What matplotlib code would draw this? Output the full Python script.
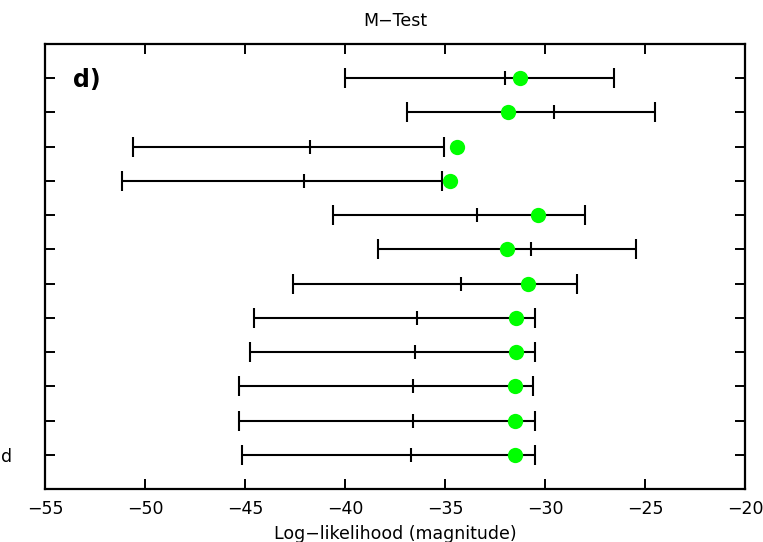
import numpy as np
import matplotlib
matplotlib.use('Agg')
import matplotlib.pyplot as plt

# rows listed top to bottom
row_labels = ['', '', '', '', '', '', '', '', '', '', '', 'd']
lo  = [-40.0, -36.9, -50.6, -51.15, -40.6, -38.33, -42.58, -44.53, -44.75, -45.28, -45.28, -45.17]
med = [-32.0, -29.57, -41.75, -42.07, -33.4, -30.7, -34.22, -36.38, -36.48, -36.58, -36.6, -36.7]
hi  = [-26.57, -24.5, -35.05, -35.13, -28.0, -25.43, -28.42, -30.5, -30.5, -30.58, -30.5, -30.5]
obs = [-31.25, -31.85, -34.4, -34.73, -30.35, -31.9, -30.87, -31.47, -31.47, -31.52, -31.52, -31.52]

plt.rcParams['font.family'] = ['DejaVu Sans']

fig = plt.figure(figsize=(7.63, 5.42), dpi=100)
ax = fig.add_axes([45/763, 53/542, 700/763, 445/542])

n = len(lo)
y = np.arange(n, 0, -1)
lo = np.array(lo); hi = np.array(hi); med = np.array(med)

ax.errorbar(med, y, xerr=[med - lo, hi - med], fmt='none', ecolor='black',
            elinewidth=1.5, capsize=7, capthick=1.5, zorder=2)
ax.plot(med, y, linestyle='none', marker='|', markersize=10, markeredgewidth=1.5,
        color='black', zorder=3)
ax.plot(obs, y, linestyle='none', marker='o', markersize=11, color='#00ff00',
        markeredgewidth=0, zorder=4)

ax.set_xlim(-55, -20)
ax.set_ylim(0, 13)
ax.set_xticks(np.arange(-55, -19, 5))
ax.set_xticklabels(['\u221255', '\u221250', '\u221245', '\u221240', '\u221235', '\u221230', '\u221225', '\u221220'])
ax.set_yticks(y)
ax.set_yticklabels(row_labels)
ax.tick_params(axis='both', direction='in', length=7, width=1.4, top=True, right=True,
               labelsize=12.5)
ax.tick_params(axis='x', pad=8)
ax.tick_params(axis='y', pad=24)
for s in ax.spines.values():
    s.set_linewidth(1.6)

ax.set_title('M\u2212Test', fontsize=12.5, pad=13)
ax.set_xlabel('Log\u2212likelihood (magnitude)', fontsize=12.5, labelpad=5)
ax.text(0.04, 0.92, 'd)', transform=ax.transAxes, fontsize=17, fontweight='bold',
        ha='left', va='center')

fig.savefig('out.png', dpi=100)
